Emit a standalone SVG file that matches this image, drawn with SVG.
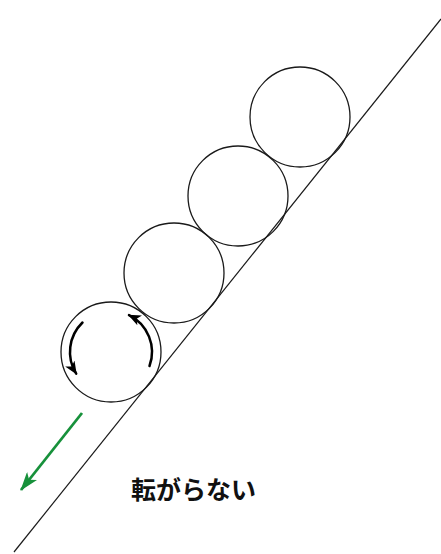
<svg xmlns="http://www.w3.org/2000/svg" width="441" height="554" viewBox="0 0 441 554">
  <style>
    .ball { fill: none; stroke: #1a1a1a; stroke-width: 1.3; }
    .slope { fill: none; stroke: #1a1a1a; stroke-width: 1.2; }
    .rot { fill: none; stroke: #000; stroke-width: 2.5; stroke-linecap: round; }
    .move { fill: none; stroke: #17913b; stroke-width: 2.8; }
    .label { font-family: "Noto Sans CJK JP", "Noto Sans", sans-serif; font-weight: bold; font-size: 25px; fill: #111; }
  </style>
  <defs>
    <marker id="headBlack" viewBox="0 0 13 11" refX="12" refY="5.5" markerWidth="13" markerHeight="11" markerUnits="userSpaceOnUse" orient="auto">
      <path d="M0,0 L13,5.5 L0,11 L3.5,5.5 Z" fill="#000"/>
    </marker>
    <marker id="headGreen" viewBox="0 0 19 13" refX="18" refY="6.5" markerWidth="19" markerHeight="13" markerUnits="userSpaceOnUse" orient="auto">
      <path d="M0,0 L19,6.5 L0,13 L5,6.5 Z" fill="#17913b"/>
    </marker>
  </defs>

  <g id="slope">
    <line class="slope" x1="441" y1="19" x2="14" y2="552"/>
  </g>

  <g id="ball1"><circle class="ball" cx="300" cy="117" r="50"/></g>
  <g id="ball2"><circle class="ball" cx="238" cy="196" r="50"/></g>
  <g id="ball3"><circle class="ball" cx="174" cy="273" r="50"/></g>
  <g id="ball4"><circle class="ball" cx="111" cy="352" r="50"/></g>

  <g id="connectors">
    <path class="rot" d="M82.5,322.5 A41,41 0 0 0 76.2,373.7" marker-end="url(#headBlack)"/>
    <path class="rot" d="M149.5,366 A41,41 0 0 0 129,315.1" marker-end="url(#headBlack)"/>
    <line class="move" x1="82" y1="413" x2="21" y2="490" marker-end="url(#headGreen)"/>
  </g>

  <g id="label">
    <text class="label" x="131" y="499">転がらない</text>
  </g>
</svg>
